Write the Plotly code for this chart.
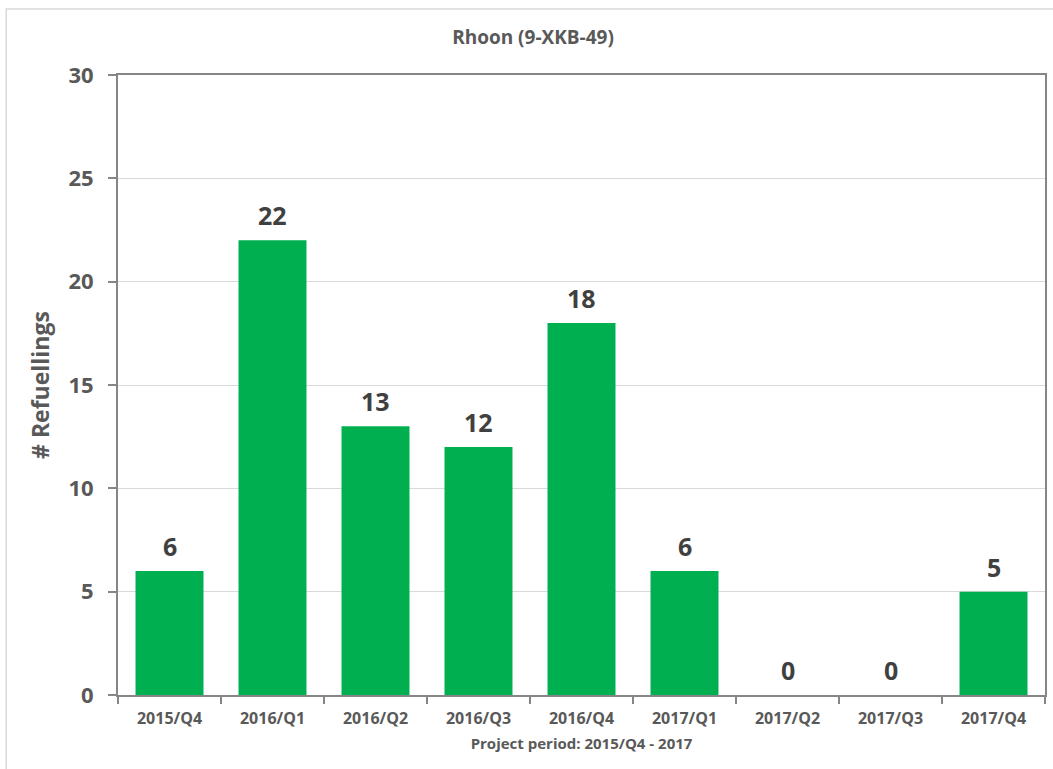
import plotly.graph_objects as go

# Quarterly refuelling counts for the Rhoon station
quarters = ["2015/Q4", "2016/Q1", "2016/Q2", "2016/Q3", "2016/Q4",
            "2017/Q1", "2017/Q2", "2017/Q3", "2017/Q4"]
refuellings = [6, 22, 13, 12, 18, 6, 0, 0, 5]
y_ticks = [0, 5, 10, 15, 20, 25, 30]

FONT = "Open Sans"
GREY = "#595959"
BAR_GREEN = "#00B050"

fig = go.Figure()
fig.add_trace(go.Bar(
    x=quarters,
    y=refuellings,
    marker=dict(color=BAR_GREEN, line=dict(width=0)),
    width=0.66,
    hoverinfo="x+y",
))

# Value labels above every bar (including the empty quarters)
for q, v in zip(quarters, refuellings):
    fig.add_annotation(
        x=q, y=v, xref="x", yref="y",
        text=f"<b>{v}</b>", showarrow=False,
        yanchor="bottom", yshift=6,
        font=dict(family=FONT, size=25, color="#404040"),
    )

# Outer frame of the chart area
fig.add_shape(
    type="rect", xref="paper", yref="paper",
    x0=-0.1206, x1=1.2, y0=-0.2, y1=1.1065,
    line=dict(color="#d9d9d9", width=1.5), fillcolor="rgba(0,0,0,0)",
    layer="below",
)

fig.update_layout(
    width=1053, height=769,
    margin=dict(l=118, r=6, t=75, b=74),
    paper_bgcolor="white", plot_bgcolor="white",
    showlegend=False,
    bargap=0.34,
    title=dict(
        text="<b>Rhoon (9-XKB-49)</b>",
        x=533 / 1053, xref="container", xanchor="center",
        y=1 - 37 / 769, yref="container", yanchor="middle",
        font=dict(family=FONT, size=19, color=GREY),
    ),
    font=dict(family=FONT, color=GREY),
)

fig.update_xaxes(
    type="category",
    tickson="boundaries",
    ticks="outside", ticklen=7, tickwidth=2, tickcolor="#868686",
    showline=True, linecolor="#868686", linewidth=2, mirror=True,
    showgrid=False,
    tickfont=dict(family=FONT, size=16, color=GREY, weight="bold"),
    ticklabelstandoff=8,
    title=dict(text="<b>Project period: 2015/Q4 - 2017</b>",
               font=dict(family=FONT, size=15, color=GREY), standoff=10),
)

fig.update_yaxes(
    range=[0, 30],
    tickvals=y_ticks,
    ticks="outside", ticklen=8, tickwidth=2, tickcolor="#868686",
    showline=True, linecolor="#868686", linewidth=2, mirror=True,
    showgrid=True, gridcolor="#d9d9d9", gridwidth=1,
    zeroline=False,
    tickfont=dict(family=FONT, size=22, color=GREY, weight="bold"),
    ticklabelstandoff=10,
    title=dict(text="<b># Refuellings</b>",
               font=dict(family=FONT, size=23, color=GREY), standoff=12),
)

fig.write_html("out.html")
